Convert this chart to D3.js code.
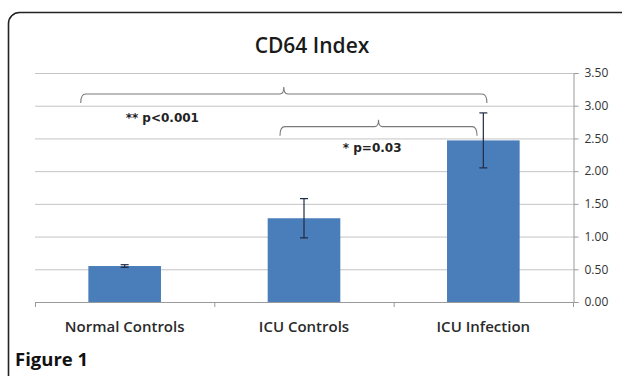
<!DOCTYPE html>
<html><head><meta charset="utf-8">
<script src="https://cdn.jsdelivr.net/npm/d3@7/dist/d3.min.js"></script>
<style>html,body{margin:0;padding:0;background:#fff;}svg{display:block;}</style>
</head><body>
<svg id="c" width="622" height="376"></svg>
<script>
const categories = ["Normal Controls", "ICU Controls", "ICU Infection"];
const means = [0.55, 1.28, 2.47];
const errors = [0.02, 0.30, 0.42];
const yTicks = [0, 0.5, 1, 1.5, 2, 2.5, 3, 3.5];
// significance brackets: span in category-position units, level in data units
const brackets = [
  {from: 0.255, to: 2.52, level: 3.18, label: "** p<0.001", labelPos: 0.71, labelLevel: 2.82},
  {from: 1.366, to: 2.465, level: 2.68, label: "* p=0.03", labelPos: 1.88, labelLevel: 2.36}
];

const svg = d3.select("#c");
const L = 35, R = 573, T = 73, B = 302;
const FONT = "'Open Sans', Lato, sans-serif";

// border
svg.append("rect").attr("x", 8.5).attr("y", 12.5).attr("width", 640).attr("height", 390)
  .attr("rx", 11).attr("fill", "none").attr("stroke", "#222").attr("stroke-width", 1.6);

const x = d3.scaleBand().domain(categories).range([L, R]).paddingInner(0.595).paddingOuter(0.2975);
const xPos = d3.scaleLinear().domain([0, 3]).range([L, R]);
const y = d3.scaleLinear().domain([0, 3.5]).range([B, T]);

// title
svg.append("text").attr("x", 312).attr("y", 52.5).attr("text-anchor", "middle")
  .attr("font-family", FONT).attr("font-weight", 600).attr("font-size", 21).attr("fill", "#1a1a1a")
  .text("CD64 Index");

// gridlines
svg.append("g").selectAll("line").data(yTicks).join("line")
  .attr("x1", L).attr("x2", R).attr("y1", d => y(d) + 0.5).attr("y2", d => y(d) + 0.5)
  .attr("stroke", "#c4c4c4").attr("stroke-width", 1);

// right axis
const ya = svg.append("g").attr("transform", `translate(${R + 0.5},0)`)
  .call(d3.axisRight(y).tickValues(yTicks).tickSize(5).tickPadding(6).tickFormat(d3.format(".2f")));
ya.select(".domain").attr("stroke", "#9a9a9a");
ya.selectAll(".tick line").attr("stroke", "#9a9a9a");
ya.selectAll(".tick text").attr("font-family", FONT).attr("font-size", 12).attr("fill", "#333");

// x axis line with boundary ticks
svg.append("line").attr("x1", L).attr("x2", R).attr("y1", B + 0.5).attr("y2", B + 0.5).attr("stroke", "#9a9a9a");
svg.append("g").selectAll("line").data(d3.range(0, 4)).join("line")
  .attr("x1", d => xPos(d) + 0.5).attr("x2", d => xPos(d) + 0.5).attr("y1", B).attr("y2", B + 5)
  .attr("stroke", "#9a9a9a");

// bars
svg.append("g").selectAll("rect").data(categories).join("rect")
  .attr("x", d => x(d)).attr("width", x.bandwidth())
  .attr("y", (d, i) => y(means[i])).attr("height", (d, i) => B - y(means[i]))
  .attr("fill", "#4a7ebb");

// error bars
const eb = svg.append("g").attr("stroke", "#1f2a44").attr("stroke-width", 1.2);
categories.forEach((c, i) => {
  const cx = x(c) + x.bandwidth() / 2;
  const y1 = y(means[i] + errors[i]), y2 = y(means[i] - errors[i]);
  eb.append("line").attr("x1", cx).attr("x2", cx).attr("y1", y1).attr("y2", y2);
  eb.append("line").attr("x1", cx - 4).attr("x2", cx + 4).attr("y1", y1).attr("y2", y1);
  eb.append("line").attr("x1", cx - 4).attr("x2", cx + 4).attr("y1", y2).attr("y2", y2);
});

// category labels
svg.append("g").selectAll("text").data(categories).join("text")
  .attr("x", d => x(d) + x.bandwidth() / 2).attr("y", 331.5).attr("text-anchor", "middle")
  .attr("font-family", FONT).attr("font-weight", 600).attr("font-size", 15)
  .attr("fill", "#2a2a2a").text(d => d);

// brackets
brackets.forEach(b => {
  const x1 = xPos(b.from), x2 = xPos(b.to), xc = (x1 + x2) / 2, yl = y(b.level);
  const p = d3.path();
  p.moveTo(x1, yl + 9);
  p.quadraticCurveTo(x1, yl, x1 + 5, yl);
  p.lineTo(xc - 4, yl);
  p.quadraticCurveTo(xc, yl, xc, yl - 7);
  p.quadraticCurveTo(xc, yl, xc + 4, yl);
  p.lineTo(x2 - 5, yl);
  p.quadraticCurveTo(x2, yl, x2, yl + 9);
  svg.append("path").attr("d", p.toString()).attr("fill", "none").attr("stroke", "#7a7a7a").attr("stroke-width", 1.1);
  svg.append("text").attr("x", xPos(b.labelPos)).attr("y", y(b.labelLevel) + 4.5).attr("text-anchor", "middle")
    .attr("font-family", "'DejaVu Sans', sans-serif").attr("font-weight", "bold").attr("font-size", 12)
    .attr("fill", "#222").text(b.label);
});

// figure caption
svg.append("text").attr("x", 15).attr("y", 366)
  .attr("font-family", FONT).attr("font-weight", "bold").attr("font-size", 18.5)
  .attr("fill", "#111").text("Figure 1");
</script>
</body></html>
